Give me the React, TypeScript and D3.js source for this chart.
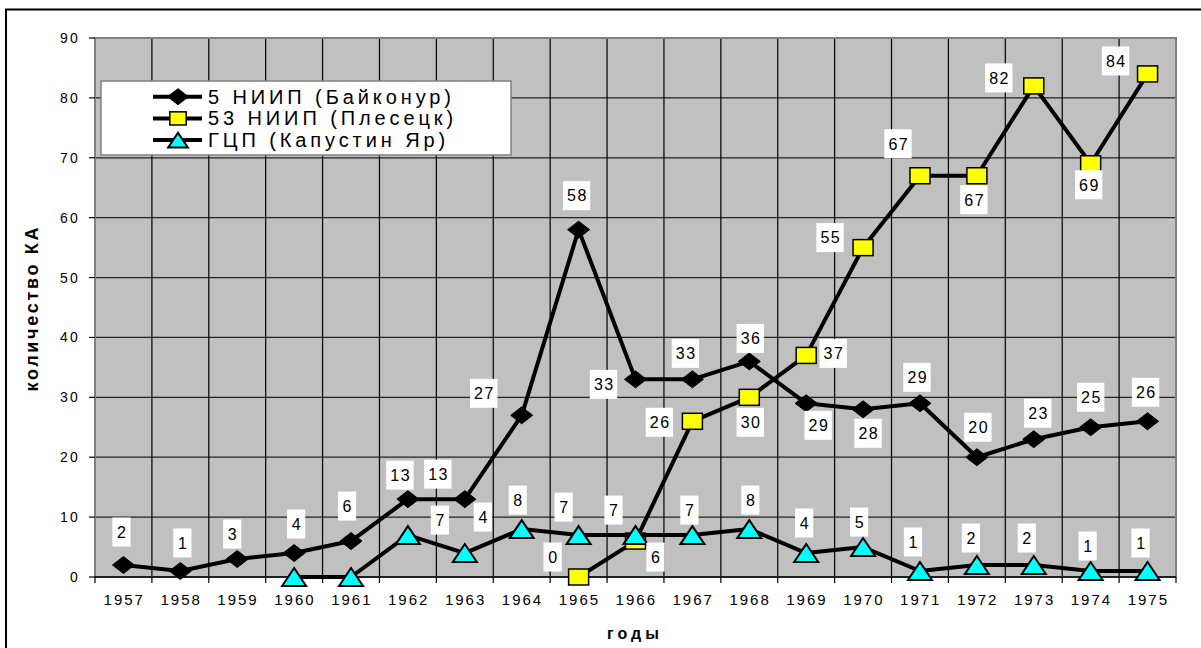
import React from "react";
import * as d3 from "d3";

const years = [1957, 1958, 1959, 1960, 1961, 1962, 1963, 1964, 1965, 1966, 1967, 1968, 1969, 1970, 1971, 1972, 1973, 1974, 1975];
const baikonur = [2, 1, 3, 4, 6, 13, 13, 27, 58, 33, 33, 36, 29, 28, 29, 20, 23, 25, 26];
const plesetsk: (number | null)[] = [null, null, null, null, null, null, null, null, 0, 6, 26, 30, 37, 55, 67, 67, 82, 69, 84];
const kapYar: (number | null)[] = [null, null, null, 0, 0, 7, 4, 8, 7, 7, 7, 8, 4, 5, 1, 2, 2, 1, 1];
const kapYarLabelShown = [false, false, false, false, false, true, true, true, true, true, true, true, true, true, true, true, true, true, true];
const yTicks = [0, 10, 20, 30, 40, 50, 60, 70, 80, 90];
const seriesNames = ["5 НИИП (Байконур)", "53 НИИП (Плесецк)", "ГЦП (Капустин Яр)"];
const yTitle = "количество КА";
const xTitle = "годы";

// label placement offsets (dx, dy) relative to the point
const baikonurLabelOff = [[-2, -33], [2, -28], [-5, -25], [2, -29], [-4, -35], [-8, -24], [-27, -25], [-38, -22], [-2, -34], [-32, 5], [-7, -26], [1, -23], [12, 22], [5, 24], [-3, -26], [1, -30], [4, -26], [0, -30], [-2, -29]];
const plesetskLabelOff = [[0, 0], [0, 0], [0, 0], [0, 0], [0, 0], [0, 0], [0, 0], [0, 0], [-26, -20], [20, 16], [-33, 1], [1, 25], [27, -2], [-33, -10], [-22, -32], [-3, 24], [-35, -8], [-2, 21], [-32, -13]];
const kapYarLabelOff = [[0, 0], [0, 0], [0, 0], [0, 0], [0, 0], [32, -15], [18, -36], [-4, -29], [-15, -28], [-22, -25], [-3, -25], [1, -29], [-2, -30], [-4, -25], [-7, -29], [-6, -27], [-7, -27], [-3, -25], [-7, -28]];

const FONT = "'Liberation Sans', Arial, sans-serif";

const PL = 95, PR = 1176, PT = 38, PB = 577;

const x = d3.scaleBand<number>().domain(years).range([PL, PR]).padding(0);
const y = d3.scaleLinear().domain([0, 90]).range([PB, PT]);
const cx = (yr: number) => (x(yr) as number) + x.bandwidth() / 2;

function Marker({ kind, px, py, scale = 1 }: { kind: number; px: number; py: number; scale?: number }) {
  if (kind === 0) {
    const w = 11 * scale, h = 8.5 * scale;
    return <path d={`M${px - w},${py} L${px},${py - h} L${px + w},${py} L${px},${py + h} Z`} fill="#000" stroke="#000" strokeWidth={1} />;
  }
  if (kind === 1) {
    const w = 10 * scale, h = 8 * scale;
    return <rect x={px - w} y={py - h} width={2 * w} height={2 * h} fill="#FFFF00" stroke="#000" strokeWidth={1.5} />;
  }
  const w = 12 * scale, h = 9 * scale;
  return <path d={`M${px - w},${py + h} L${px},${py - h} L${px + w},${py + h} Z`} fill="#00FFFF" stroke="#000" strokeWidth={2} strokeLinejoin="miter" />;
}

export default function App() {
  const series = [
    { vals: baikonur as (number | null)[], off: baikonurLabelOff, shown: years.map(() => true) },
    { vals: plesetsk, off: plesetskLabelOff, shown: plesetsk.map((v) => v !== null) },
    { vals: kapYar, off: kapYarLabelOff, shown: kapYarLabelShown },
  ];
  const line = d3
    .line<[number, number | null]>()
    .defined((d) => d[1] !== null)
    .x((d) => cx(d[0]))
    .y((d) => y(d[1] as number));

  return (
    <svg width={1201} height={648} style={{ position: "absolute", left: 0, top: 0, display: "block" }} fontFamily={FONT}>
      <rect x={0} y={0} width={1201} height={648} fill="#fff" />
      <rect x={6} y={9.5} width={1210} height={660} fill="none" stroke="#000" strokeWidth={2} />
      {/* plot area */}
      <rect x={PL} y={PT} width={PR - PL} height={PB - PT} fill="#C0C0C0" />
      {yTicks.slice(1, -1).map((t) => (
        <line key={"h" + t} x1={PL} x2={PR} y1={y(t)} y2={y(t)} stroke="#222" strokeWidth={1.2} />
      ))}
      {years.slice(1).map((yr) => (
        <line key={"v" + yr} x1={x(yr)} x2={x(yr)} y1={PT} y2={PB} stroke="#000" strokeWidth={1.2} />
      ))}
      <rect x={PL} y={PT} width={PR - PL} height={PB - PT} fill="none" stroke="#808080" strokeWidth={2} />
      {/* y axis */}
      {yTicks.map((t) => (
        <g key={"yt" + t}>
          <line x1={89} x2={PL} y1={y(t)} y2={y(t)} stroke="#000" strokeWidth={1.2} />
          <text x={80} y={y(t) + 5} textAnchor="end" fontSize={14} letterSpacing={2.2} fill="#000">
            {t}
          </text>
        </g>
      ))}
      {/* x axis */}
      <line x1={PL} x2={PR} y1={PB} y2={PB} stroke="#000" strokeWidth={1.5} />
      {years.map((yr) => (
        <line key={"xt" + yr} x1={x(yr)} x2={x(yr)} y1={PB} y2={PB + 6} stroke="#000" strokeWidth={1.2} />
      ))}
      <line x1={PR} x2={PR} y1={PB} y2={PB + 6} stroke="#000" strokeWidth={1.2} />
      {years.map((yr) => (
        <text key={"xl" + yr} x={cx(yr) + 0.8} y={605} textAnchor="middle" fontSize={15} letterSpacing={2} fill="#000">
          {yr}
        </text>
      ))}
      {/* titles */}
      <text x={635} y={639} textAnchor="middle" fontSize={16} fontWeight="bold" letterSpacing={4} fill="#000">
        {xTitle}
      </text>
      <text
        transform={`translate(38,${(PT + PB) / 2 + 2}) rotate(-90)`}
        textAnchor="middle"
        fontSize={18}
        fontWeight="bold"
        textLength={164}
        lengthAdjust="spacing"
        fill="#000"
      >
        {yTitle}
      </text>
      {/* series */}
      {series.map((s, si) => (
        <g key={"s" + si}>
          <path d={line(years.map((yr, i) => [yr, s.vals[i]]))} fill="none" stroke="#000" strokeWidth={4} strokeLinejoin="round" />
          {years.map((yr, i) =>
            s.vals[i] === null ? null : <Marker key={i} kind={si} px={cx(yr)} py={y(s.vals[i] as number)} />
          )}
        </g>
      ))}
      {/* labels */}
      {series.map((s, si) =>
        years.map((yr, i) => {
          const v = s.vals[i];
          if (v === null || !s.shown[i]) return null;
          const lx = cx(yr) + s.off[i][0];
          const ly = y(v) + s.off[i][1];
          const txt = String(v);
          const w = txt.length * 9.2 + 9;
          return (
            <g key={`l${si}-${i}`}>
              <rect x={lx - w / 2} y={ly - 14.5} width={w} height={29} fill="#fff" />
              <text x={lx + 0.8} y={ly + 5.8} textAnchor="middle" fontSize={16} letterSpacing={1.5} fill="#000">
                {txt}
              </text>
            </g>
          );
        })
      )}
      {/* legend */}
      <rect x={101} y={81} width={410} height={74} fill="#fff" stroke="#808080" strokeWidth={1.5} />
      {seriesNames.map((nm, i) => {
        const ry = 96.7 + i * 21.7;
        return (
          <g key={"lg" + i}>
            <line x1={153} x2={202} y1={ry} y2={ry} stroke="#000" strokeWidth={4} />
            <Marker kind={i} px={178} py={ry} scale={i === 0 ? 0.95 : 0.82} />
            <text x={208} y={ry + 7} fontSize={20} letterSpacing={3.9} fill="#000">
              {nm}
            </text>
          </g>
        );
      })}
    </svg>
  );
}
